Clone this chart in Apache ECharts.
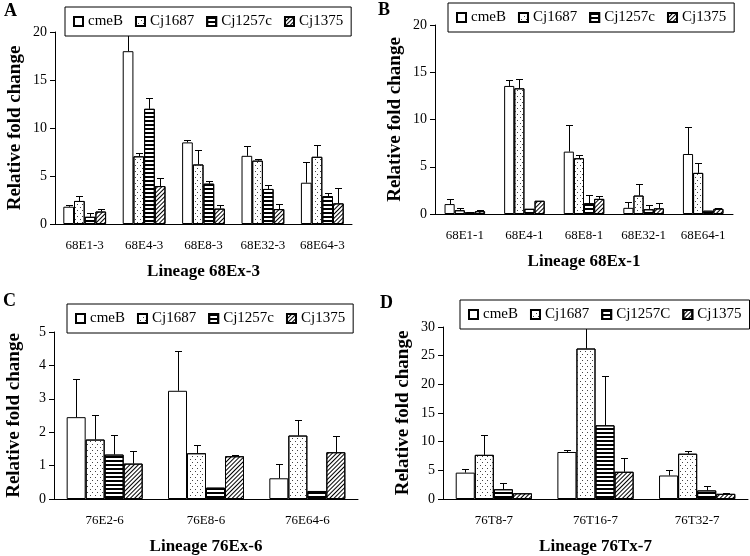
<!DOCTYPE html>
<html>
<head>
<meta charset="utf-8">
<script src="https://cdn.jsdelivr.net/npm/echarts@6/dist/echarts.min.js"></script>
<style>
  html, body { margin: 0; background: #fff; }
  #main { width: 750px; height: 556px; }
</style>
</head>
<body>
<div id="main"></div>
<script>
// gene names (panel D spells the third one with a capital C)
const genes = ['cmeB', 'Cj1687', 'Cj1257c', 'Cj1375'];
const genesD = ['cmeB', 'Cj1687', 'Cj1257C', 'Cj1375'];

// panel A - Lineage 68Ex-3
const catsA = ['68E1-3', '68E4-3', '68E8-3', '68E32-3', '68E64-3'];
const meanA = [
  [1.8, 18.0, 8.5, 7.1, 4.3],
  [2.4, 7.05, 6.2, 6.6, 7.0],
  [0.75, 12.0, 4.2, 3.65, 2.9],
  [1.3, 3.95, 1.6, 1.55, 2.15]
];
const sdA = [
  [0.2, 2.4, 0.2, 1.0, 2.2],
  [0.5, 0.3, 1.5, 0.15, 1.2],
  [0.35, 1.1, 0.3, 0.4, 0.35],
  [0.25, 0.8, 0.4, 0.55, 1.65]
];

// panel B - Lineage 68Ex-1
const catsB = ['68E1-1', '68E4-1', '68E8-1', '68E32-1', '68E64-1'];
const meanB = [
  [1.05, 13.55, 6.6, 0.65, 6.35],
  [0.4, 13.3, 5.9, 1.95, 4.35],
  [0.18, 0.55, 1.15, 0.5, 0.35],
  [0.3, 1.4, 1.6, 0.6, 0.55]
];
const sdB = [
  [0.5, 0.6, 2.8, 0.6, 2.9],
  [0.2, 1.0, 0.3, 1.2, 1.0],
  [0.05, 0, 0.85, 0.45, 0],
  [0.15, 0, 0.3, 0.55, 0.05]
];

// panel C - Lineage 76Ex-6
const catsC = ['76E2-6', '76E8-6', '76E64-6'];
const meanC = [
  [2.45, 3.24, 0.62],
  [1.78, 1.37, 1.9],
  [1.33, 0.34, 0.24],
  [1.06, 1.28, 1.4]
];
const sdC = [
  [1.15, 1.18, 0.43],
  [0.73, 0.25, 0.47],
  [0.6, 0, 0],
  [0.38, 0.03, 0.49]
];

// panel D - Lineage 76Tx-7
const catsD = ['76T8-7', '76T16-7', '76T32-7'];
const meanD = [
  [4.6, 8.2, 4.1],
  [7.7, 26.25, 7.9],
  [1.7, 12.85, 1.5],
  [1.0, 4.75, 0.9]
];
const sdD = [
  [0.6, 0.35, 1.0],
  [3.4, 4.5, 0.45],
  [1.1, 8.55, 0.8],
  [0, 2.35, 0.1]
];

const serif = 'Liberation Serif';

const decals = [
  null,
  { symbol: 'rect', symbolSize: 1, dashArrayX: [[1, 4], [0, 2, 1, 2]], dashArrayY: [1, 2], color: '#444' },
  { symbol: 'rect', symbolSize: 1, dashArrayX: [1, 0], dashArrayY: [2, 2], color: '#000' },
  { symbol: 'rect', symbolSize: 1, dashArrayX: [1, 0], dashArrayY: [1, 2], rotation: -Math.PI / 4, color: '#000' }
];

const panels = [
  { letter: 'A', lx: 4, ly: 2, grid: { left: 55, top: 32, width: 297, height: 192 }, cats: catsA, mean: meanA, sd: sdA, names: genes, max: 20, interval: 5, gap: 0.28, title: 'Lineage 68Ex-3', legend: { left: 65, top: 7 } },
  { letter: 'B', lx: 378, ly: 1, grid: { left: 435, top: 25, width: 298, height: 189 }, cats: catsB, mean: meanB, sd: sdB, names: genes, max: 20, interval: 5, gap: 0.32, title: 'Lineage 68Ex-1', legend: { left: 448, top: 3 } },
  { letter: 'C', lx: 3, ly: 292, grid: { left: 54, top: 332, width: 304, height: 172 }, cats: catsC, mean: meanC, sd: sdC, names: genes, max: 5, interval: 1, gap: 0.25, title: 'Lineage 76Ex-6', legend: { left: 67, top: 304 } },
  { letter: 'D', lx: 380, ly: 294, grid: { left: 443, top: 327, width: 305, height: 176 }, cats: catsD, mean: meanD, sd: sdD, names: genesD, max: 30, interval: 5, gap: 0.25, title: 'Lineage 76Tx-7', legend: { left: 460, top: 300 } }
];

const option = {
  animation: false,
  backgroundColor: '#fff',
  textStyle: { fontFamily: serif },
  title: [],
  grid: [],
  xAxis: [],
  yAxis: [],
  legend: [],
  series: []
};

panels.forEach((p, pi) => {
  option.title.push({
    text: p.letter, left: p.lx, top: p.ly, padding: 0,
    textStyle: { fontFamily: serif, fontSize: 18, fontWeight: 'bold', color: '#000' }
  });
  option.grid.push(p.grid);
  option.xAxis.push({
    type: 'category', gridIndex: pi, data: p.cats,
    axisLine: { lineStyle: { color: '#000', width: 1 } },
    axisTick: { length: 5, lineStyle: { color: '#000' } },
    axisLabel: { color: '#000', fontFamily: serif, fontSize: 13, margin: 15 },
    name: p.title, nameLocation: 'middle', nameGap: 39,
    nameTextStyle: { color: '#000', fontFamily: serif, fontSize: 17, fontWeight: 'bold' }
  });
  option.yAxis.push({
    type: 'value', gridIndex: pi, min: 0, max: p.max, interval: p.interval,
    splitLine: { show: false },
    axisLine: { show: true, lineStyle: { color: '#000', width: 1 } },
    axisTick: { show: true, length: 5, lineStyle: { color: '#000' } },
    axisLabel: { color: '#000', fontFamily: serif, fontSize: 14, margin: 8 },
    name: 'Relative fold change', nameLocation: 'middle', nameGap: 30,
    nameTextStyle: { color: '#000', fontFamily: serif, fontSize: 19, fontWeight: 'bold' }
  });
  option.legend.push({
    data: p.names, left: p.legend.left, top: p.legend.top, width: 320,
    backgroundColor: '#fff', borderColor: '#000', borderWidth: 1, borderRadius: 0,
    padding: [7, 8], itemGap: 12, itemWidth: 9, itemHeight: 9, icon: 'rect',
    textStyle: { fontFamily: serif, fontSize: 15, color: '#000' },
    selectedMode: false, z: 10
  });
  p.names.forEach((name, k) => {
    const itemStyle = { color: '#fff', borderColor: '#000', borderWidth: 1 };
    if (decals[k]) itemStyle.decal = decals[k];
    option.series.push({
      type: 'bar', name: name, xAxisIndex: pi, yAxisIndex: pi,
      data: p.mean[k], barGap: '0%', barCategoryGap: (p.gap * 100) + '%',
      itemStyle: itemStyle
    });
    option.series.push({
      type: 'custom', name: name + ' sd', xAxisIndex: pi, yAxisIndex: pi, z: 3,
      clip: false, silent: true,
      encode: { x: 0, y: 1 },
      data: p.mean[k].map((m, i) => [i, m, p.sd[k][i]]),
      renderItem: (params, api) => {
        const sd = api.value(2);
        if (!(sd > 0)) return null;
        const base = api.coord([api.value(0), api.value(1)]);
        const top = api.coord([api.value(0), api.value(1) + sd]);
        const band = api.size([1, 0])[0];
        const barW = band * (1 - p.gap) / 4;
        const x = Math.round(base[0] - 2 * barW + (k + 0.5) * barW) + 0.5;
        const ty = Math.round(top[1]) + 0.5;
        const style = { stroke: '#000', lineWidth: 1 };
        return {
          type: 'group',
          children: [
            { type: 'line', shape: { x1: x, y1: base[1], x2: x, y2: ty }, style: style },
            { type: 'line', shape: { x1: x - 3.5, y1: ty, x2: x + 3.5, y2: ty }, style: style }
          ]
        };
      }
    });
  });
});

const chart = echarts.init(document.getElementById('main'), null, { renderer: 'canvas' });
chart.setOption(option);
</script>
</body>
</html>
